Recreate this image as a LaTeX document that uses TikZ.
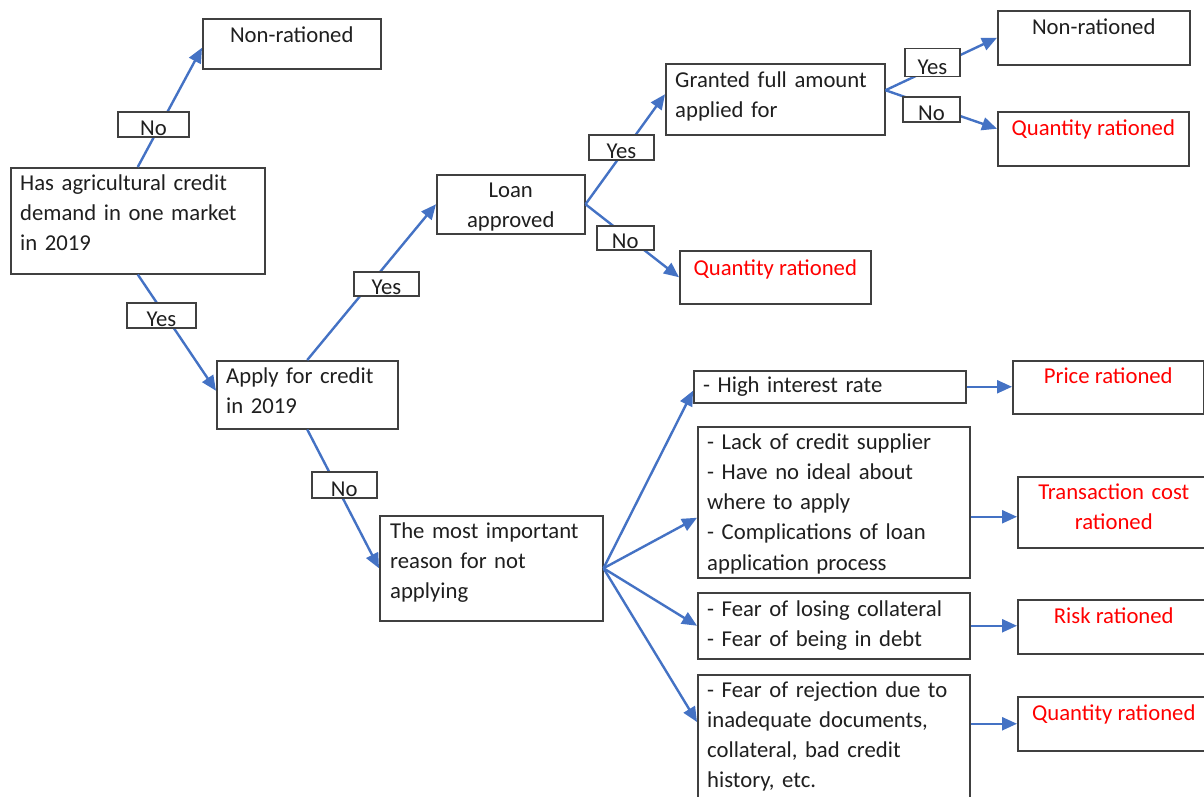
\documentclass[tikz,border=0pt]{standalone}
\usepackage{fontspec}
\setmainfont{Carlito}
\usetikzlibrary{arrows.meta,calc}

\definecolor{flowblue}{HTML}{4472C4}
\definecolor{framegray}{HTML}{404040}
\definecolor{outcomered}{HTML}{FF0000}

\tikzset{
  box/.style={draw=framegray, line width=1.5pt, fill=white, inner sep=0pt, anchor=north west},
  lbl/.style={draw=framegray, line width=1.5pt, fill=white, inner sep=0pt},
  txt/.style={inner sep=0pt, font=\fontsize{22.7}{30.3}\selectfont, text=black!88},
  outtxt/.style={txt, text=outcomered},
  flow/.style={draw=flowblue, line width=2.4pt, -{Triangle[length=15pt,width=13pt]}},
}

% \flowbox{name}{left}{top}{width}{height}
\newcommand{\flowbox}[5]{\node[box, minimum width=#4pt, minimum height=#5pt] (#1) at (#2,#3) {};}

\begin{document}
\begin{tikzpicture}[x=1pt,y=-1pt]
\useasboundingbox (0,0) rectangle (1204,796);

% ---- boxes ----
\flowbox{nr1}{202}{18}{178}{50}
\flowbox{root}{10}{167}{254}{106}
\flowbox{apply}{216}{360}{181}{68}
\flowbox{loan}{436}{174}{148}{59}
\flowbox{granted}{665}{63}{219}{71}
\flowbox{qr1}{679}{250}{191}{53}
\flowbox{nr2}{997}{10}{192}{54}
\flowbox{qr2}{997}{111}{191}{54}
\flowbox{reason}{379}{515}{223}{105}
\flowbox{hi}{693}{370}{272}{32}
\flowbox{lack}{697}{426}{272}{151}
\flowbox{fear1}{697}{592}{272}{66}
\flowbox{fear2}{697}{674}{272}{140}
\flowbox{price}{1012}{360}{191}{53}
\flowbox{trans}{1017}{476}{192}{71}
\flowbox{risk}{1017}{599}{192}{54}
\flowbox{qr3}{1017}{696}{192}{54}

% ---- box texts ----
\node[txt, anchor=base] at ($(nr1.north)+(0,24)$) {Non-rationed};
\node[txt, anchor=base west, text width=240pt, align=left] at ($(root.north west)+(10,23)$)
  {Has agricultural credit\\demand in one market\\in 2019};
\node[txt, anchor=base west, text width=170pt, align=left] at ($(apply.north west)+(10,23)$)
  {Apply for credit\\in 2019};
\node[txt, anchor=base, text width=148pt, align=center] at ($(loan.north)+(0,23)$)
  {Loan\\approved};
\node[txt, anchor=base west, text width=205pt, align=left] at ($(granted.north west)+(10,24)$)
  {Granted full amount\\applied for};
\node[outtxt, anchor=base] at ($(qr1.north)+(0,25)$) {Quantity rationed};
\node[txt, anchor=base] at ($(nr2.north)+(0,24)$) {Non-rationed};
\node[outtxt, anchor=base] at ($(qr2.north)+(0,24)$) {Quantity rationed};
\node[txt, anchor=base west, text width=210pt, align=left] at ($(reason.north west)+(11,23)$)
  {The most important\\reason for not\\applying};
\node[txt, anchor=base west, text width=260pt, align=left] at ($(hi.north west)+(10,22)$)
  {- High interest rate};
\node[txt, anchor=base west, text width=260pt, align=left] at ($(lack.north west)+(10,23)$)
  {- Lack of credit supplier\\- Have no ideal about\\where to apply\\- Complications of loan\\application process};
\node[txt, anchor=base west, text width=260pt, align=left] at ($(fear1.north west)+(10,24)$)
  {- Fear of losing collateral\\- Fear of being in debt};
\node[txt, anchor=base west, text width=260pt, align=left] at ($(fear2.north west)+(10,23)$)
  {- Fear of rejection due to\\inadequate documents,\\collateral, bad credit\\history, etc.};
\node[outtxt, anchor=base] at ($(price.north)+(0,23)$) {Price rationed};
\node[outtxt, anchor=base, text width=190pt, align=center] at ($(trans.north)+(0,23)$)
  {Transaction cost\\rationed};
\node[outtxt, anchor=base] at ($(risk.north)+(0,24)$) {Risk rationed};
\node[outtxt, anchor=base] at ($(qr3.north)+(0,24)$) {Quantity rationed};

% ---- connectors ----
\draw[flow] (root.north) -- ([yshift=-4pt]nr1.west);
\draw[flow] (root.south) -- ([yshift=4pt]apply.west);
\draw[flow] (apply.north) -- (loan.west);
\draw[flow] (loan.east) -- ([yshift=5pt]granted.west);
\draw[flow] (loan.east) -- (qr1.west);
\coordinate (gj) at ([yshift=9pt]granted.east);
\draw[flow] (gj) -- (nr2.west);
\draw[flow] (gj) -- ([yshift=10pt]qr2.west);
\draw[flow] (apply.south) -- (reason.west);
\draw[flow] (reason.east) -- ([yshift=-4pt]hi.west);
\draw[flow] (reason.east) -- ([yshift=-15.5pt]lack.west);
\draw[flow] (reason.east) -- (fear1.west);
\draw[flow] (reason.east) -- ([yshift=-48pt]fear2.north west);
\draw[flow] (hi.east) -- (hi.east -| price.west);
\coordinate (lk) at ([yshift=-14.5pt]lack.east);
\draw[flow] (lk) -- (lk -| trans.west);
\draw[flow] (fear1.east) -- (fear1.east -| risk.west);
\draw[flow] (qr3.west -| fear2.east) -- (qr3.west);

% ---- yes / no labels on the connectors ----
\node[lbl, minimum width=71pt, minimum height=25pt] (l1) at (153.5,124.5) {};
\node[txt, anchor=base] at ([yshift=2pt]l1.south) {No};
\node[lbl, minimum width=69pt, minimum height=25pt] (l2) at (161.5,315.5) {};
\node[txt, anchor=base] at ([yshift=2pt]l2.south) {Yes};
\node[lbl, minimum width=65pt, minimum height=24pt] (l3) at (386.5,284) {};
\node[txt, anchor=base] at ([yshift=2pt]l3.south) {Yes};
\node[lbl, minimum width=65pt, minimum height=25pt] (l4) at (621.5,147.5) {};
\node[txt, anchor=base] at ([yshift=2pt]l4.south) {Yes};
\node[lbl, minimum width=57pt, minimum height=24pt] (l5) at (625.3,238) {};
\node[txt, anchor=base] at ([yshift=2pt]l5.south) {No};
\node[lbl, minimum width=55pt, minimum height=28pt] (l6) at (932.5,62.5) {};
\node[txt, anchor=base] at ([yshift=3pt]l6.south) {Yes};
\node[lbl, minimum width=57pt, minimum height=25pt] (l7) at (931.5,109.5) {};
\node[txt, anchor=base] at ([yshift=2pt]l7.south) {No};
\node[lbl, minimum width=65pt, minimum height=26pt] (l8) at (344.3,485) {};
\node[txt, anchor=base] at ([yshift=2pt]l8.south) {No};
\end{tikzpicture}
\end{document}
